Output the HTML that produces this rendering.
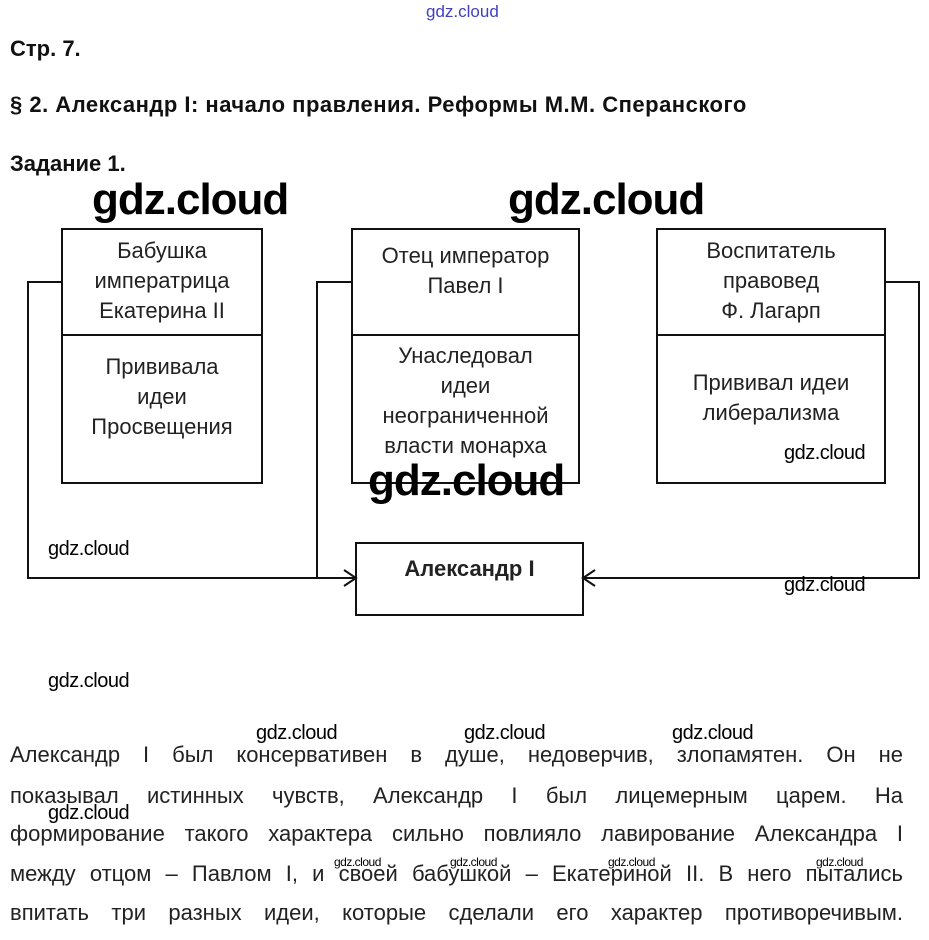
<!DOCTYPE html>
<html><head><meta charset="utf-8"><style>
body{margin:0;width:929px;height:940px;background:#fff;position:relative;overflow:hidden;font-family:"Liberation Sans",Arial,sans-serif;color:#111}
.a{position:absolute;white-space:nowrap}
.h{font-weight:bold;font-size:22px}
.bt{position:absolute;text-align:center;font-size:22px;line-height:30px;color:#222}
.wm{position:absolute;font-family:"Liberation Sans",sans-serif;font-size:20px;color:#000;white-space:nowrap;letter-spacing:-0.5px}
.big{font-size:44px;font-weight:bold;letter-spacing:-1px}
.sm{font-size:12px;letter-spacing:-0.5px}
.ln{position:absolute;left:10px;width:893px;font-size:22px;text-align:justify;text-align-last:justify;white-space:nowrap;color:#222;transform-origin:left;}
</style></head><body>
<div class="a" style="left:426px;top:2px;font-size:17px;color:#4040c0">gdz.cloud</div>
<div class="a h" style="left:10px;top:36px">Стр. 7.</div>
<div class="a h" style="left:10px;top:92px;letter-spacing:0.5px">§ 2. Александр I: начало правления. Реформы М.М. Сперанского</div>
<div class="a h" style="left:10px;top:151px">Задание 1.</div>

<svg width="929" height="940" style="position:absolute;left:0;top:0" fill="none" stroke="#111" stroke-width="2">
<rect x="62" y="229" width="200" height="254"/><line x1="62" y1="335" x2="262" y2="335"/>
<rect x="352" y="229" width="227" height="254"/><line x1="352" y1="335" x2="579" y2="335"/>
<rect x="657" y="229" width="228" height="254"/><line x1="657" y1="335" x2="885" y2="335"/>
<rect x="356" y="543" width="227" height="72"/>
<polyline points="62,282 28,282 28,578 356,578"/>
<polyline points="352,282 317,282 317,578"/>
<polyline points="885,282 919,282 919,578 583,578"/>
<polyline points="344,570 356,578 344,586"/>
<polyline points="595,570 583,578 595,586"/>
</svg>

<div class="bt" style="left:62px;width:200px;top:236px">Бабушка<br>императрица<br>Екатерина II</div>
<div class="bt" style="left:62px;width:200px;top:352px">Прививала<br>идеи<br>Просвещения</div>
<div class="bt" style="left:352px;width:227px;top:241px">Отец император<br>Павел I</div>
<div class="bt" style="left:352px;width:227px;top:341px">Унаследовал<br>идеи<br>неограниченной<br>власти монарха</div>
<div class="bt" style="left:657px;width:228px;top:236px">Воспитатель<br>правовед<br>Ф. Лагарп</div>
<div class="bt" style="left:657px;width:228px;top:368px">Прививал идеи<br>либерализма</div>
<div class="bt" style="left:356px;width:227px;top:554px;font-weight:bold">Александр I</div>

<div class="wm big" style="left:92px;top:175px">gdz.cloud</div>
<div class="wm big" style="left:508px;top:175px">gdz.cloud</div>
<div class="wm big" style="left:368px;top:456px">gdz.cloud</div>
<div class="wm" style="left:784px;top:442px">gdz.cloud</div>
<div class="wm" style="left:48px;top:538px">gdz.cloud</div>
<div class="wm" style="left:784px;top:574px">gdz.cloud</div>
<div class="wm" style="left:48px;top:670px">gdz.cloud</div>
<div class="wm" style="left:256px;top:722px">gdz.cloud</div>
<div class="wm" style="left:464px;top:722px">gdz.cloud</div>
<div class="wm" style="left:672px;top:722px">gdz.cloud</div>
<div class="wm" style="left:48px;top:802px">gdz.cloud</div>
<div class="wm sm" style="left:334px;top:855px">gdz.cloud</div>
<div class="wm sm" style="left:450px;top:855px">gdz.cloud</div>
<div class="wm sm" style="left:608px;top:855px">gdz.cloud</div>
<div class="wm sm" style="left:816px;top:855px">gdz.cloud</div>

<div class="ln" style="top:742px">Александр I был консервативен в душе, недоверчив, злопамятен. Он не</div>
<div class="ln" style="top:783px">показывал истинных чувств, Александр I был лицемерным царем. На</div>
<div class="ln" style="top:821px">формирование такого характера сильно повлияло лавирование Александра I</div>
<div class="ln" style="top:861px">между отцом – Павлом I, и своей бабушкой – Екатериной II. В него пытались</div>
<div class="ln" style="top:900px">впитать три разных идеи, которые сделали его характер противоречивым.</div>
</body></html>
